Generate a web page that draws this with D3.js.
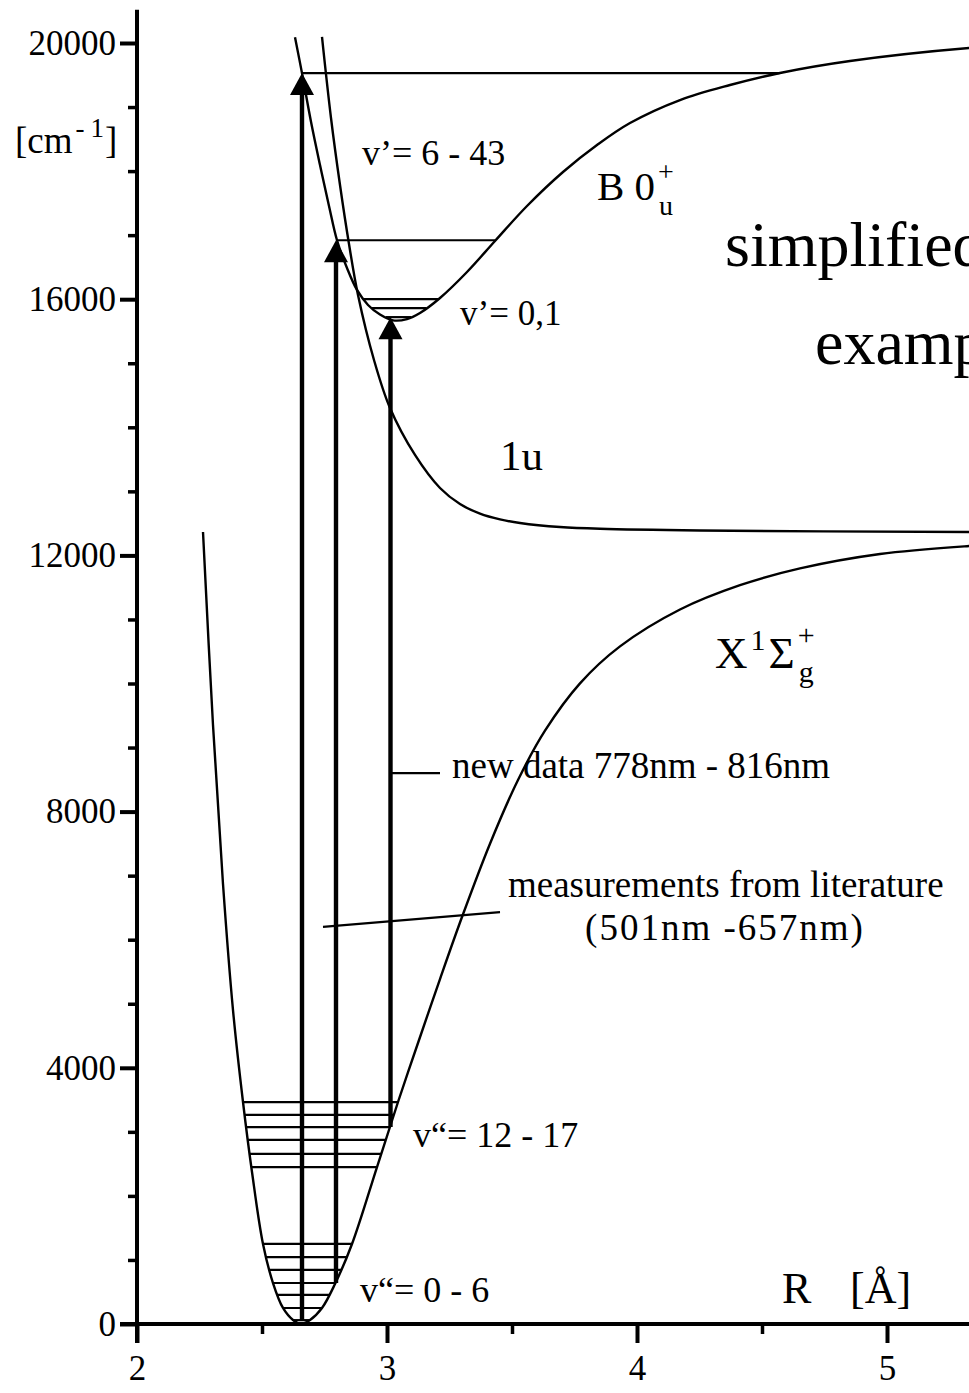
<!DOCTYPE html>
<html>
<head>
<meta charset="utf-8">
<script src="https://cdn.jsdelivr.net/npm/d3@7"></script>
<style>
  html, body { margin: 0; padding: 0; background: #fff; }
  svg { display: block; }
  text { font-family: "Liberation Serif", "Times New Roman", serif; fill: #000; }
</style>
</head>
<body>
<svg id="chart" width="969" height="1393"></svg>
<script>
// Potential energy curves: internuclear distance R [Å] vs energy [cm^-1]

// Ground state X 1Σg+
const xStateR = [2.264, 2.304, 2.344, 2.384, 2.424, 2.460, 2.504, 2.544, 2.584, 2.624, 2.656, 2.692, 2.740, 2.792,
                 2.860, 2.960, 3.044, 3.124, 3.212, 3.300, 3.412, 3.524, 3.632, 3.772, 3.932, 4.172, 4.412, 4.652,
                 4.972, 5.328, 5.400];
const xStateE = [12365, 9352, 6870, 4902, 3466, 2373, 1249, 640, 250, 62, 0, 62, 250, 625,
                 1249, 2451, 3466, 4387, 5386, 6354, 7499, 8493, 9263, 10002, 10579, 11155, 11535, 11797,
                 12022, 12147, 12162];

// Excited state B 0u+
const bStateR = [2.632, 2.660, 2.696, 2.732, 2.768, 2.800, 2.840, 2.880, 2.924, 2.972, 3.024, 3.080, 3.132, 3.212,
                 3.320, 3.432, 3.560, 3.704, 3.840, 3.972, 4.172, 4.372, 4.572, 4.852, 5.328, 5.400];
const bStateE = [20090, 19530, 18770, 18095, 17455, 16920, 16487, 16144, 15910, 15760, 15670, 15690, 15785, 16019,
                 16425, 16909, 17455, 17986, 18407, 18751, 19110, 19344, 19532, 19719, 19922, 19938];

// Repulsive-wall state 1u
const uStateR = [2.740, 2.776, 2.812, 2.848, 2.884, 2.948, 3.012, 3.112, 3.212, 3.292, 3.372, 3.452, 3.532, 3.692,
                 3.852, 4.252, 5.328, 5.400];
const uStateE = [20094, 18829, 17783, 16862, 16066, 15051, 14301, 13568, 13052, 12802, 12652, 12562, 12506, 12443,
                 12415, 12389, 12365, 12365];

// Vibrational levels (cm^-1)
const xLevelsLow  = [1250, 1045, 845, 640, 455, 250, 60];     // v" = 0 - 6
const xLevelsHigh = [3465, 3265, 3075, 2875, 2655, 2450];     // v" = 12 - 17
const bLevelsLow  = [16000, 15860, 15720];                    // v' = 0,1
const bLevelsHigh = [19530, 16920];                           // v' = 6 - 43 range

// Transitions (R position, lower and upper energy)
const arrowR    = [2.660, 2.796, 3.014];
const arrowFrom = [60, 640, 3075];
const arrowTo   = [19530, 16920, 15720];

// Pointer lines for the annotations
const newDataPtrR = [3.014, 3.212];
const newDataPtrE = [8600, 8600];
const litPtrR = [2.744, 3.452];
const litPtrE = [6200, 6430];

// Axes
const xMajor = [2, 3, 4, 5];
const xMinor = [2.5, 3.5, 4.5];
const yMajor = [0, 4000, 8000, 12000, 16000, 20000];
const yMinor = [1000, 2000, 3000, 5000, 6000, 7000, 9000, 10000, 11000, 13000, 14000, 15000, 17000, 18000, 19000];

const svg = d3.select("#chart");
svg.append("rect").attr("width", 969).attr("height", 1393).attr("fill", "#fff");

const x = d3.scaleLinear().domain([2, 5]).range([137, 887]);
const y = d3.scaleLinear().domain([0, 20000]).range([1324, 43]);

// --- axes ---
const yAx = svg.append("g").attr("transform", `translate(${x(2)},0)`);
yAx.call(d3.axisLeft(y).tickValues(yMajor).tickSize(17).tickPadding(4).tickFormat(d => String(d)));
yAx.select(".domain").remove();
yAx.selectAll(".tick line").attr("stroke-width", 4);
yAx.selectAll(".tick text").attr("font-size", 35).attr("font-family", "Liberation Serif").attr("fill", "#000");
const yAxMinor = svg.append("g").attr("transform", `translate(${x(2)},0)`);
yAxMinor.call(d3.axisLeft(y).tickValues(yMinor).tickSize(9).tickFormat(""));
yAxMinor.select(".domain").remove();
yAxMinor.selectAll(".tick line").attr("stroke-width", 3.5);

const xAx = svg.append("g").attr("transform", `translate(0,${y(0)})`);
xAx.call(d3.axisBottom(x).tickValues(xMajor).tickSize(19).tickPadding(12).tickFormat(d => String(d)));
xAx.select(".domain").remove();
xAx.selectAll(".tick line").attr("stroke-width", 4);
xAx.selectAll(".tick text").attr("font-size", 35).attr("font-family", "Liberation Serif").attr("fill", "#000");
const xAxMinor = svg.append("g").attr("transform", `translate(0,${y(0)})`);
xAxMinor.call(d3.axisBottom(x).tickValues(xMinor).tickSize(10).tickFormat(""));
xAxMinor.select(".domain").remove();
xAxMinor.selectAll(".tick line").attr("stroke-width", 3.5);

// axis lines
svg.append("line").attr("x1", x(2)).attr("x2", x(2)).attr("y1", y(20520)).attr("y2", y(0) + 19)
  .attr("stroke", "#000").attr("stroke-width", 4);
svg.append("line").attr("x1", x(2) - 17).attr("x2", 969).attr("y1", y(0)).attr("y2", y(0))
  .attr("stroke", "#000").attr("stroke-width", 4);

// --- curves ---
const line = d3.line().x(d => x(d[0])).y(d => y(d[1])).curve(d3.curveCatmullRom.alpha(0.5));
const curves = [
  d3.zip(xStateR, xStateE),
  d3.zip(bStateR, bStateE),
  d3.zip(uStateR, uStateE)
];
svg.append("g").selectAll("path").data(curves).join("path")
  .attr("d", line).attr("fill", "none").attr("stroke", "#000").attr("stroke-width", 2.4);

// crossings of a curve with a horizontal level (first and last)
function crossings(Rs, Es, e) {
  const out = [];
  for (let i = 0; i < Rs.length - 1; i++) {
    const a = Es[i] - e, b = Es[i + 1] - e;
    if (a === 0) out.push(Rs[i]);
    else if (a * b < 0) out.push(Rs[i] + (Rs[i + 1] - Rs[i]) * (a / (a - b)));
  }
  return [out[0], out[out.length - 1]];
}

const levels = [];
xLevelsLow.concat(xLevelsHigh).forEach(e => levels.push({ e, r: crossings(xStateR, xStateE, e) }));
bLevelsLow.concat(bLevelsHigh).forEach(e => levels.push({ e, r: crossings(bStateR, bStateE, e) }));
svg.append("g").selectAll("line").data(levels).join("line")
  .attr("x1", d => x(d.r[0])).attr("x2", d => x(d.r[1]))
  .attr("y1", d => y(d.e)).attr("y2", d => y(d.e))
  .attr("stroke", "#000").attr("stroke-width", 2.2);

// --- transition arrows ---
const arrows = arrowR.map((r, i) => ({ r, from: arrowFrom[i], to: arrowTo[i] }));
const ag = svg.append("g");
ag.selectAll("line").data(arrows).join("line")
  .attr("x1", d => x(d.r)).attr("x2", d => x(d.r))
  .attr("y1", d => y(d.from)).attr("y2", d => y(d.to) + 16)
  .attr("stroke", "#000").attr("stroke-width", 4.4);
ag.selectAll("path").data(arrows).join("path")
  .attr("d", d => {
    const cx = x(d.r), ty = y(d.to);
    return `M${cx},${ty} L${cx - 12},${ty + 22} L${cx + 12},${ty + 22} Z`;
  })
  .attr("fill", "#000");

// --- pointer lines ---
[[newDataPtrR, newDataPtrE], [litPtrR, litPtrE]].forEach(([rs, es]) => {
  svg.append("line")
    .attr("x1", x(rs[0])).attr("x2", x(rs[1]))
    .attr("y1", y(es[0])).attr("y2", y(es[1]))
    .attr("stroke", "#000").attr("stroke-width", 2.2);
});

// --- text ---
function txt(px, py, s, size, anchor) {
  return svg.append("text").attr("x", px).attr("y", py).attr("font-size", size)
    .attr("text-anchor", anchor || "start").text(s);
}
function width(t) { return t.node().getComputedTextLength(); }

// y unit [cm-1]
let t = txt(15, 153, "[cm", 37);
let cx = 15 + width(t) + 3;
t = txt(cx, 137, "-", 27); cx += width(t) + 6;
t = txt(cx, 137, "1", 27); cx += width(t) + 1;
txt(cx, 153, "]", 37);

// x unit
txt(782, 1303, "R", 44);
txt(850, 1303, "[Å]", 44);

// state and level labels
txt(362, 165, "v’= 6 - 43", 36);
t = txt(597, 200, "B 0", 41);
cx = 597 + width(t) + 3;
txt(cx, 181, "+", 28);
txt(cx + 1, 215, "u", 28);

txt(725, 266, "simplified", 64);
txt(815, 364, "example", 64);

txt(460, 325, "v’= 0,1", 35);
txt(500, 470, "1u", 43);

t = txt(715, 668, "X", 45);
cx = 715 + width(t) + 3;
t = txt(cx, 650, "1", 30);
cx += width(t) + 3;
t = txt(cx, 668, "Σ", 45);
cx += width(t) + 3;
txt(cx, 645, "+", 30);
txt(cx + 1, 682, "g", 30);

txt(452, 778, "new data 778nm - 816nm", 37);
txt(508, 897, "measurements from literature", 37);
txt(725, 940, "(501nm -657nm)", 37, "middle").attr("letter-spacing", 2);

txt(413, 1147, "v“= 12 - 17", 36);
txt(360, 1302, "v“= 0 - 6", 36);
</script>
</body>
</html>
